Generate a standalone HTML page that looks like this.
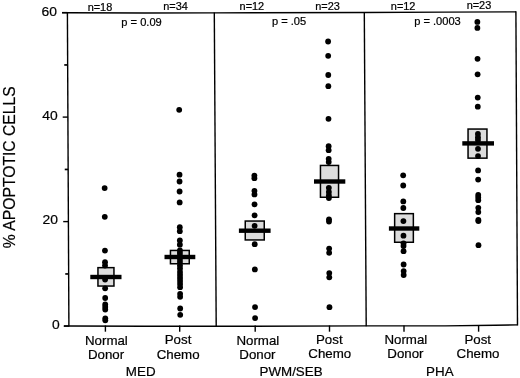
<!DOCTYPE html>
<html><head><meta charset="utf-8"><style>
html,body{margin:0;padding:0;background:#fff;}
svg{display:block;will-change:transform;}
text{font-family:"Liberation Sans", sans-serif;fill:#000;stroke:#000;stroke-width:0.2px;}
</style></head><body>
<svg width="520" height="378" viewBox="0 0 520 378">
<rect width="520" height="378" fill="#fff"/>
<polyline points="62,12.7 67.4,12.7 145,12.95 214.3,12.85 364.3,12.45 445,12.15 516,11.85" fill="none" stroke="#000" stroke-width="1.4"/>
<polyline points="64,326.0 68.9,326.0 145,326.25 216.2,326.3 366.2,325.9 445,325.85 495,325.2 517.5,324.9" fill="none" stroke="#000" stroke-width="1.4"/>
<line x1="67.4" y1="12.0" x2="68.9" y2="326.5" stroke="#000" stroke-width="1.4"/>
<line x1="214.3" y1="12.5" x2="216.2" y2="326.5" stroke="#000" stroke-width="1.4"/>
<line x1="364.3" y1="12.0" x2="366.2" y2="326.2" stroke="#000" stroke-width="1.4"/>
<line x1="515.9" y1="11.2" x2="517.5" y2="325.4" stroke="#000" stroke-width="1.4"/>
<line x1="63.70047846889952" y1="326.1" x2="68.90047846889952" y2="326.1" stroke="#000" stroke-width="1.4"/>
<line x1="63.20047846889952" y1="221.60000000000002" x2="68.40047846889952" y2="221.60000000000002" stroke="#000" stroke-width="1.4"/>
<line x1="62.70047846889952" y1="117.10000000000002" x2="67.90047846889952" y2="117.10000000000002" stroke="#000" stroke-width="1.4"/>
<line x1="62.20047846889952" y1="12.600000000000023" x2="67.40047846889952" y2="12.600000000000023" stroke="#000" stroke-width="1.4"/>
<line x1="65.25095693779905" y1="273.95" x2="68.65095693779905" y2="273.95" stroke="#000" stroke-width="1.7"/>
<line x1="64.75095693779905" y1="169.45" x2="68.15095693779905" y2="169.45" stroke="#000" stroke-width="1.7"/>
<line x1="64.25095693779905" y1="64.94999999999999" x2="67.65095693779905" y2="64.94999999999999" stroke="#000" stroke-width="1.7"/>
<line x1="105.4" y1="325.5" x2="105.4" y2="331.7" stroke="#000" stroke-width="1.4"/>
<line x1="179.7" y1="325.5" x2="179.7" y2="331.7" stroke="#000" stroke-width="1.4"/>
<line x1="255.2" y1="325.5" x2="255.2" y2="331.7" stroke="#000" stroke-width="1.4"/>
<line x1="329.5" y1="325.5" x2="329.5" y2="331.7" stroke="#000" stroke-width="1.4"/>
<line x1="404.0" y1="325.5" x2="404.0" y2="331.7" stroke="#000" stroke-width="1.4"/>
<line x1="478.6" y1="325.5" x2="478.6" y2="331.7" stroke="#000" stroke-width="1.4"/>
<rect x="97.95" y="267.65" width="16.00" height="18.40" fill="#dcdcdc" stroke="#000" stroke-width="1.5"/>
<rect x="170.45" y="250.45" width="18.80" height="13.30" fill="#dcdcdc" stroke="#000" stroke-width="1.5"/>
<rect x="245.25" y="221.05" width="19.00" height="18.90" fill="#dcdcdc" stroke="#000" stroke-width="1.5"/>
<rect x="320.45" y="165.45" width="18.10" height="31.80" fill="#dcdcdc" stroke="#000" stroke-width="1.5"/>
<rect x="394.65" y="213.65" width="18.70" height="28.60" fill="#dcdcdc" stroke="#000" stroke-width="1.5"/>
<rect x="468.05" y="129.05" width="18.90" height="29.10" fill="#dcdcdc" stroke="#000" stroke-width="1.5"/>
<circle cx="104.64" cy="188.1" r="2.9" fill="#000"/>
<circle cx="104.78" cy="216.8" r="2.9" fill="#000"/>
<circle cx="104.95" cy="250.6" r="2.9" fill="#000"/>
<circle cx="105.01" cy="262.2" r="2.9" fill="#000"/>
<circle cx="105.03" cy="265.6" r="2.9" fill="#000"/>
<circle cx="105.10" cy="279.6" r="2.9" fill="#000"/>
<circle cx="105.14" cy="288.3" r="2.9" fill="#000"/>
<circle cx="105.19" cy="298" r="2.9" fill="#000"/>
<circle cx="105.22" cy="304.5" r="2.9" fill="#000"/>
<circle cx="105.23" cy="307" r="2.9" fill="#000"/>
<circle cx="105.25" cy="309.5" r="2.9" fill="#000"/>
<circle cx="105.29" cy="318.3" r="2.9" fill="#000"/>
<circle cx="105.30" cy="320.3" r="2.9" fill="#000"/>
<circle cx="179.20" cy="109.8" r="2.9" fill="#000"/>
<circle cx="179.52" cy="174.7" r="2.9" fill="#000"/>
<circle cx="179.56" cy="181.5" r="2.9" fill="#000"/>
<circle cx="179.61" cy="191.5" r="2.9" fill="#000"/>
<circle cx="179.66" cy="202.4" r="2.9" fill="#000"/>
<circle cx="179.79" cy="227.2" r="2.9" fill="#000"/>
<circle cx="179.81" cy="231.2" r="2.9" fill="#000"/>
<circle cx="179.85" cy="240.4" r="2.9" fill="#000"/>
<circle cx="179.87" cy="244.7" r="2.9" fill="#000"/>
<circle cx="179.90" cy="250.3" r="2.9" fill="#000"/>
<circle cx="179.91" cy="253" r="2.9" fill="#000"/>
<circle cx="179.93" cy="256" r="2.9" fill="#000"/>
<circle cx="179.94" cy="259" r="2.9" fill="#000"/>
<circle cx="179.96" cy="262" r="2.9" fill="#000"/>
<circle cx="179.98" cy="265.4" r="2.9" fill="#000"/>
<circle cx="179.99" cy="268.5" r="2.9" fill="#000"/>
<circle cx="180.01" cy="272" r="2.9" fill="#000"/>
<circle cx="180.03" cy="275" r="2.9" fill="#000"/>
<circle cx="180.04" cy="278" r="2.9" fill="#000"/>
<circle cx="180.06" cy="281" r="2.9" fill="#000"/>
<circle cx="180.07" cy="284" r="2.9" fill="#000"/>
<circle cx="180.09" cy="287.2" r="2.9" fill="#000"/>
<circle cx="180.12" cy="293.8" r="2.9" fill="#000"/>
<circle cx="180.13" cy="296.8" r="2.9" fill="#000"/>
<circle cx="180.19" cy="308.5" r="2.9" fill="#000"/>
<circle cx="180.22" cy="314.8" r="2.9" fill="#000"/>
<circle cx="254.38" cy="175.6" r="2.9" fill="#000"/>
<circle cx="254.39" cy="178.2" r="2.9" fill="#000"/>
<circle cx="254.45" cy="190.8" r="2.9" fill="#000"/>
<circle cx="254.47" cy="194.4" r="2.9" fill="#000"/>
<circle cx="254.52" cy="204.3" r="2.9" fill="#000"/>
<circle cx="254.58" cy="215.3" r="2.9" fill="#000"/>
<circle cx="254.63" cy="225.8" r="2.9" fill="#000"/>
<circle cx="254.72" cy="244.2" r="2.9" fill="#000"/>
<circle cx="254.85" cy="269.4" r="2.9" fill="#000"/>
<circle cx="255.04" cy="307.1" r="2.9" fill="#000"/>
<circle cx="255.09" cy="318.1" r="2.9" fill="#000"/>
<circle cx="328.11" cy="41.5" r="2.9" fill="#000"/>
<circle cx="328.18" cy="55.8" r="2.9" fill="#000"/>
<circle cx="328.27" cy="75.0" r="2.9" fill="#000"/>
<circle cx="328.33" cy="86.2" r="2.9" fill="#000"/>
<circle cx="328.49" cy="118.8" r="2.9" fill="#000"/>
<circle cx="328.63" cy="146.2" r="2.9" fill="#000"/>
<circle cx="328.65" cy="150.2" r="2.9" fill="#000"/>
<circle cx="328.69" cy="158.8" r="2.9" fill="#000"/>
<circle cx="328.71" cy="162.1" r="2.9" fill="#000"/>
<circle cx="328.84" cy="187.8" r="2.9" fill="#000"/>
<circle cx="328.86" cy="192" r="2.9" fill="#000"/>
<circle cx="328.88" cy="195.5" r="2.9" fill="#000"/>
<circle cx="328.89" cy="198" r="2.9" fill="#000"/>
<circle cx="329.00" cy="219.3" r="2.9" fill="#000"/>
<circle cx="329.01" cy="221.5" r="2.9" fill="#000"/>
<circle cx="329.14" cy="248.6" r="2.9" fill="#000"/>
<circle cx="329.16" cy="252.8" r="2.9" fill="#000"/>
<circle cx="329.27" cy="273.1" r="2.9" fill="#000"/>
<circle cx="329.29" cy="277.3" r="2.9" fill="#000"/>
<circle cx="329.44" cy="307.2" r="2.9" fill="#000"/>
<circle cx="403.18" cy="175.3" r="2.9" fill="#000"/>
<circle cx="403.23" cy="185.5" r="2.9" fill="#000"/>
<circle cx="403.31" cy="201.4" r="2.9" fill="#000"/>
<circle cx="403.34" cy="208.0" r="2.9" fill="#000"/>
<circle cx="403.41" cy="221.1" r="2.9" fill="#000"/>
<circle cx="403.48" cy="235.7" r="2.9" fill="#000"/>
<circle cx="403.52" cy="243.3" r="2.9" fill="#000"/>
<circle cx="403.53" cy="246" r="2.9" fill="#000"/>
<circle cx="403.56" cy="251.2" r="2.9" fill="#000"/>
<circle cx="403.62" cy="264.5" r="2.9" fill="#000"/>
<circle cx="403.66" cy="271.1" r="2.9" fill="#000"/>
<circle cx="403.67" cy="275" r="2.9" fill="#000"/>
<circle cx="477.36" cy="21.9" r="2.9" fill="#000"/>
<circle cx="477.39" cy="27.9" r="2.9" fill="#000"/>
<circle cx="477.54" cy="58.8" r="2.9" fill="#000"/>
<circle cx="477.62" cy="74.3" r="2.9" fill="#000"/>
<circle cx="477.74" cy="97.6" r="2.9" fill="#000"/>
<circle cx="477.78" cy="106.7" r="2.9" fill="#000"/>
<circle cx="477.92" cy="134" r="2.9" fill="#000"/>
<circle cx="477.94" cy="137.3" r="2.9" fill="#000"/>
<circle cx="477.95" cy="140" r="2.9" fill="#000"/>
<circle cx="477.99" cy="148.8" r="2.9" fill="#000"/>
<circle cx="478.03" cy="156.1" r="2.9" fill="#000"/>
<circle cx="478.10" cy="170.4" r="2.9" fill="#000"/>
<circle cx="478.15" cy="179.6" r="2.9" fill="#000"/>
<circle cx="478.23" cy="195" r="2.9" fill="#000"/>
<circle cx="478.24" cy="197.5" r="2.9" fill="#000"/>
<circle cx="478.25" cy="200.2" r="2.9" fill="#000"/>
<circle cx="478.29" cy="207.8" r="2.9" fill="#000"/>
<circle cx="478.31" cy="212.1" r="2.9" fill="#000"/>
<circle cx="478.35" cy="220.0" r="2.9" fill="#000"/>
<circle cx="478.36" cy="221.1" r="2.9" fill="#000"/>
<circle cx="478.48" cy="245.2" r="2.9" fill="#000"/>
<rect x="90.3" y="274.80" width="31.20" height="4.4" fill="#000"/>
<rect x="164.5" y="254.80" width="30.80" height="4.4" fill="#000"/>
<rect x="238.9" y="228.50" width="31.70" height="4.4" fill="#000"/>
<rect x="314.0" y="179.30" width="31.30" height="4.4" fill="#000"/>
<rect x="388.9" y="226.30" width="30.40" height="4.4" fill="#000"/>
<rect x="462.3" y="141.20" width="31.70" height="4.4" fill="#000"/>
<text font-size="10.068" transform="translate(87.63,10.57) scale(1.0865,1)">n=18</text>
<text font-size="10.068" transform="translate(163.17,10.27) scale(1.0865,1)">n=34</text>
<text font-size="10.068" transform="translate(239.58,10.02) scale(1.0865,1)">n=12</text>
<text font-size="10.068" transform="translate(315.23,9.62) scale(1.0865,1)">n=23</text>
<text font-size="10.068" transform="translate(390.83,9.82) scale(1.0865,1)">n=12</text>
<text font-size="10.068" transform="translate(466.63,9.32) scale(1.0865,1)">n=23</text>
<text font-size="10.108" transform="translate(121.3,25.58) scale(1.1004,1)">p = 0.09</text>
<text font-size="10.108" transform="translate(271.91,25.43) scale(1.1004,1)">p = .05</text>
<text font-size="10.108" transform="translate(414.13,25.38) scale(1.1004,1)">p = .0003</text>
<text font-size="13.253" transform="translate(41.47,15.85) scale(1.0482,1)">60</text>
<text font-size="13.253" transform="translate(42.28,120.47) scale(1.0482,1)">40</text>
<text font-size="13.253" transform="translate(42.62,224.47) scale(1.0482,1)">20</text>
<text font-size="13.253" transform="translate(51.96,329.07) scale(1.0482,1)">0</text>
<text font-size="12.632" transform="translate(84.95,344.8) scale(1.0541,1)">Normal</text>
<text font-size="12.632" transform="translate(87.94,358.89) scale(1.0541,1)">Donor</text>
<text font-size="12.632" transform="translate(164.72,344.44) scale(1.0541,1)">Post</text>
<text font-size="12.632" transform="translate(156.7,358.9) scale(1.0541,1)">Chemo</text>
<text font-size="12.632" transform="translate(236.4,344.6) scale(1.0541,1)">Normal</text>
<text font-size="12.632" transform="translate(239.29,358.79) scale(1.0541,1)">Donor</text>
<text font-size="12.632" transform="translate(315.97,343.99) scale(1.0541,1)">Post</text>
<text font-size="12.632" transform="translate(308.3,358.35) scale(1.0541,1)">Chemo</text>
<text font-size="12.632" transform="translate(384.4,344.1) scale(1.0541,1)">Normal</text>
<text font-size="12.632" transform="translate(387.29,358.49) scale(1.0541,1)">Donor</text>
<text font-size="12.632" transform="translate(464.42,343.74) scale(1.0541,1)">Post</text>
<text font-size="12.632" transform="translate(456.6,358.35) scale(1.0541,1)">Chemo</text>
<text font-size="13.239" transform="translate(125.86,376.07) scale(1.0095,1)">MED</text>
<text font-size="13.239" transform="translate(259.51,375.62) scale(1.0095,1)">PWM/SEB</text>
<text font-size="13.239" transform="translate(426.07,375.57) scale(1.0095,1)">PHA</text>
<text x="0" y="0" font-size="15.7" text-anchor="middle" transform="translate(14.6,167.2) rotate(-90)">% APOPTOTIC CELLS</text>
</svg>
</body></html>
